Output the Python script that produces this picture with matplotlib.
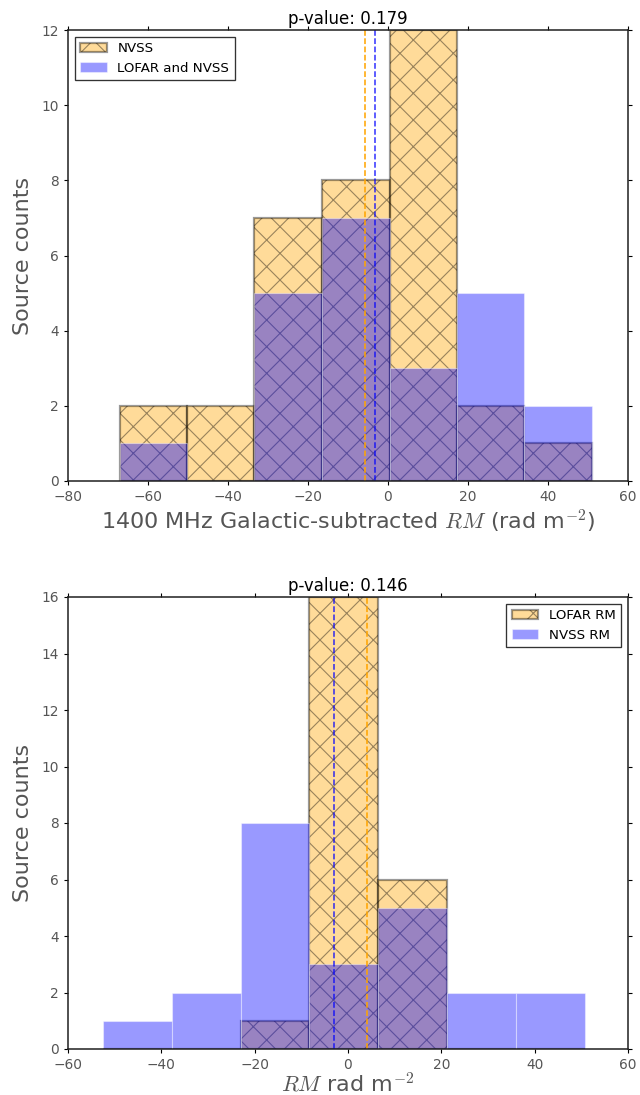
import numpy as np
import matplotlib
matplotlib.use("Agg")
import matplotlib.pyplot as plt

# Upper panel: 1400 MHz Galactic-subtracted RM
top_edges = [-67.1, -50.2, -33.4, -16.5, 0.4, 17.3, 34.1, 51.0]
top_nvss = [2, 2, 7, 8, 12, 2, 1]
top_both = [1, 0, 5, 7, 3, 5, 2]
top_nvss_mean = -5.75
top_both_mean = -3.25
top_pvalue = 0.179
top_labels = ["NVSS", "LOFAR and NVSS"]

# Lower panel: LOFAR vs NVSS RM
bot_edges = [-52.5, -37.8, -23.0, -8.3, 6.5, 21.3, 36.0, 50.8]
bot_lofar = [0, 0, 1, 16, 6, 0, 0]
bot_nvss = [1, 2, 8, 3, 5, 2, 2]
bot_lofar_mean = 4.0
bot_nvss_mean = -3.1
bot_pvalue = 0.146
bot_labels = ["LOFAR RM", "NVSS RM"]

plt.rcParams["mathtext.fontset"] = "cm"
plt.rcParams["hatch.linewidth"] = 0.5

DPI = 160
fig = plt.figure(figsize=(640 / DPI, 1095 / DPI), dpi=DPI)

W, H = 640.0, 1095.0


def axes_px(x0, y0, x1, y1):
    return fig.add_axes([x0 / W, 1 - y1 / H, (x1 - x0) / W, (y1 - y0) / H])


def panel(ax, edges, hatched, plain, hatched_mean, plain_mean, labels,
          pvalue, xlim, xticks, ylim, yticks, xlabel, legend_loc, xlabelpad):
    edges = np.asarray(edges)
    left = edges[:-1]
    width = np.diff(edges)
    ax.bar(left, hatched, width=width, align="edge", color="orange",
           edgecolor="k", linewidth=1.0, hatch="xx", alpha=0.4, label=labels[0])
    ax.bar(left, plain, width=width, align="edge", color="b",
           edgecolor="white", linewidth=0.5, alpha=0.4, label=labels[1])
    ax.axvline(hatched_mean, color="orange", linestyle="--", linewidth=0.7)
    ax.axvline(plain_mean, color="b", linestyle="--", linewidth=0.7, alpha=0.8)

    ax.set_xlim(*xlim)
    ax.set_ylim(*ylim)
    ax.set_xticks(xticks)
    ax.set_yticks(yticks)
    ax.tick_params(direction="out", length=2.0, width=0.5, labelsize=6.2,
                   labelcolor="#555555", top=True, right=True, pad=2)
    for s in ax.spines.values():
        s.set_linewidth(0.7)
        s.set_color("#222222")
    ax.set_xlabel(xlabel, fontsize=10, color="#555555", labelpad=xlabelpad)
    ax.set_ylabel("Source counts", fontsize=10, color="#555555", labelpad=4)
    ax.set_title("p-value: %.3f" % pvalue, fontsize=7.5, pad=2.5)
    leg = ax.legend(loc=legend_loc, fontsize=6.0, fancybox=False,
                    borderaxespad=0.5, handlelength=2.0, borderpad=0.4)
    leg.get_frame().set_edgecolor("k")
    leg.get_frame().set_linewidth(0.6)


ax1 = axes_px(68, 30, 628, 481)
panel(ax1, top_edges, top_nvss, top_both, top_nvss_mean, top_both_mean,
      top_labels, top_pvalue, (-80, 60), np.arange(-80, 61, 20),
      (0, 12), np.arange(0, 13, 2),
      r"1400 MHz Galactic-subtracted $RM$ (rad m$^{-2}$)", "upper left", 2)

ax2 = axes_px(68, 597, 628, 1049)
panel(ax2, bot_edges, bot_lofar, bot_nvss, bot_lofar_mean, bot_nvss_mean,
      bot_labels, bot_pvalue, (-60, 60), np.arange(-60, 61, 20),
      (0, 16), np.arange(0, 17, 2),
      r"$RM$ rad m$^{-2}$", "upper right", 0.0)

fig.savefig("out.png", dpi=DPI)
